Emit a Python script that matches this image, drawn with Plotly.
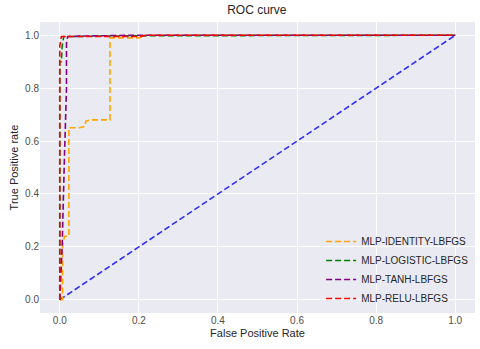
import plotly.graph_objects as go

# ROC curves (fpr, tpr)
identity_fpr = [0.0, 0.007, 0.007, 0.012, 0.023, 0.023, 0.05, 0.063, 0.066, 0.076, 0.127, 0.127, 0.2, 0.22, 1.0]
identity_tpr = [0.0, 0.0, 0.2, 0.24, 0.24, 0.65, 0.65, 0.655, 0.675, 0.68, 0.68, 0.99, 0.99, 1.0, 1.0]

logistic_fpr = [0.0, 0.0, 0.004, 0.006, 0.01, 0.2, 1.0]
logistic_tpr = [0.0, 0.9, 0.9, 0.96, 0.995, 0.998, 1.0]

tanh_fpr = [0.0, 0.006, 0.012, 0.017, 0.017, 0.02, 0.06, 0.2, 1.0]
tanh_tpr = [0.0, 0.2, 0.55, 0.8, 0.97, 0.995, 0.997, 1.0, 1.0]

relu_fpr = [0.0, 0.0, 0.004, 0.2, 0.22, 1.0]
relu_tpr = [0.0, 0.96, 0.995, 0.995, 1.0, 1.0]

diag = [0.0, 1.0]

series = [
    ("MLP-IDENTITY-LBFGS", identity_fpr, identity_tpr, "orange"),
    ("MLP-LOGISTIC-LBFGS", logistic_fpr, logistic_tpr, "green"),
    ("MLP-TANH-LBFGS", tanh_fpr, tanh_tpr, "purple"),
    ("MLP-RELU-LBFGS", relu_fpr, relu_tpr, "red"),
]

fig = go.Figure()

fig.add_trace(go.Scatter(x=diag, y=diag, mode="lines", showlegend=False,
                         line=dict(color="rgba(0,0,255,0.8)", width=1.6, dash="6px,3px")))

for name, fpr, tpr, color in series:
    fig.add_trace(go.Scatter(x=fpr, y=tpr, mode="lines", name=name,
                             line=dict(color=color, width=1.6, dash="6px,3px")))

axis_style = dict(
    showgrid=True, gridcolor="white", gridwidth=1,
    zeroline=False, showline=False, ticks="", automargin=False,
    tickfont=dict(size=10, color="#4d4d4d"),
    title_font=dict(size=11, color="#262626"),
    range=[-0.05, 1.05], dtick=0.2, tickformat=".1f",
)

fig.update_layout(
    width=480, height=349,
    margin=dict(l=40, r=5, t=22, b=36),
    paper_bgcolor="white", plot_bgcolor="#EAEAF2",
    font=dict(family="Liberation Sans, Arial, sans-serif", color="#262626"),
    title=dict(text="ROC curve", x=0.535, xanchor="center", yref="container",
               y=0.972, yanchor="middle", font=dict(size=12)),
    xaxis=dict(title=dict(text="False Positive Rate", standoff=4), **axis_style),
    yaxis=dict(title=dict(text="True Positive rate", standoff=4), **axis_style),
    legend=dict(x=0.998, y=0.0, xanchor="right", yanchor="bottom",
                bgcolor="rgba(0,0,0,0)", font=dict(size=10, color="#262626"),
                tracegroupgap=0, itemwidth=30),
)

# drop the default page margin so the figure sits at the window's corner
fig.write_html("out.html", config={"displayModeBar": False},
               post_script="document.body.style.margin='0';")
